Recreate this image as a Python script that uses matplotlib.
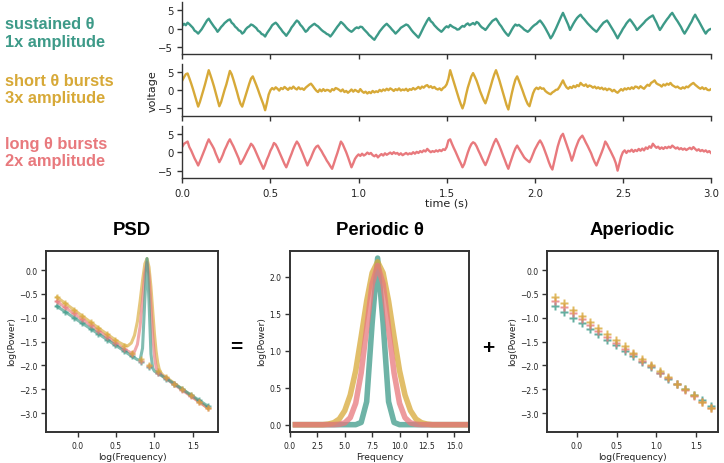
import numpy as np
import matplotlib
matplotlib.use("Agg")
import matplotlib.pyplot as plt

TEAL, GOLD, PINK = "#3d9a88", "#d7a938", "#e8797d"
BOLD = "Liberation Sans"

DT = 0.01
SUSTAINED = [
    0.8, 1.3, 0.9, 1.6, 1.2, 0.7, 0.2, -0.6, -0.9, -1.4,
    -0.8, -0.2, 0.6, 1.4, 2.2, 2.7, 1.9, 1.2, 0.5, -0.1,
    -0.9, -0.3, 0.4, 0.9, 1.5, 1.9, 2.3, 2.5, 1.6, 1.2,
    0.5, 0.1, -0.5, -0.7, -1.4, -1.0, -0.2, 0.3, 0.6, 1.1,
    0.9, 0.5, 0.1, -0.6, -0.9, -1.5, -1.7, -2.2, -1.3, -0.6,
    0.1, 0.9, 1.3, 1.6, 1.1, 0.4, -0.2, -0.9, -1.4, -2.0,
    -1.3, -0.6, 0.3, 0.9, 1.6, 2.2, 1.8, 1.0, 0.5, -0.2,
    -0.9, -0.5, 0.2, 0.6, 1.0, 1.3, 0.9, 0.6, 0.1, -0.4,
    -0.8, -1.1, -1.5, -1.7, -2.2, -1.6, -0.9, -0.2, 0.5, 1.1,
    1.8, 1.4, 0.9, 0.3, -0.2, -0.6, -0.9, -0.5, 0.0, 0.3,
    0.1, 0.5, 0.4, -0.2, -0.7, -1.2, -1.8, -2.2, -2.7, -3.1,
    -2.3, -1.6, -0.8, -0.2, 0.4, 0.9, 1.3, 0.8, 0.3, -0.3,
    -0.8, -1.4, -0.9, -0.4, 0.2, 0.5, 0.8, 1.1, 0.9, 0.3,
    -0.4, -1.0, -1.5, -2.0, -2.5, -1.6, -0.6, 0.4, 1.3, 2.2,
    2.9, 2.0, 1.6, 0.9, 0.4, -0.1, -0.5, -0.9, -0.4, 0.2,
    0.6, 0.3, 1.0, 0.6, 0.3, 0.1, -0.3, -0.2, 0.3, 0.7,
    0.5, 1.1, 1.4, 0.9, 1.2, 1.5, 1.1, 1.8, 1.5, 0.8,
    0.3, 0.0, -0.4, 0.2, 0.9, 1.5, 2.1, 2.4, 2.7, 2.0,
    1.2, 0.6, -0.2, -0.9, -1.5, -2.0, -1.2, -0.3, 0.5, 1.1,
    0.8, 1.0, 0.6, 0.2, -0.3, -0.6, -0.9, -0.5, 0.1, 0.6,
    1.0, 1.3, 1.8, 2.2, 1.6, 0.9, 0.1, -0.8, -1.7, -2.7,
    -2.0, -1.0, 0.0, 1.1, 2.2, 3.3, 4.3, 3.2, 2.1, 1.0,
    -0.4, 0.5, 1.4, 2.2, 2.9, 3.4, 3.8, 3.1, 2.6, 2.0,
    1.4, 0.9, 0.4, -0.1, -0.5, -0.9, -0.3, 0.4, 1.0, 1.6,
    1.9, 2.2, 1.5, 0.7, -0.1, -0.9, -1.8, -2.7, -1.8, -1.0,
    -0.1, 0.6, 1.4, 2.0, 2.5, 1.9, 1.2, 0.5, -0.4, 0.1,
    0.6, 1.1, 1.6, 2.2, 2.6, 3.0, 3.3, 3.6, 2.6, 1.7,
    0.6, -0.4, 0.3, 1.1, 1.8, 2.5, 3.1, 3.8, 4.3, 3.5,
    2.7, 2.0, 1.2, 0.4, -0.6, -1.4, -0.6, 0.2, 1.1, 1.9,
    3.0, 3.8, 2.9, 2.1, 1.2, 0.3, -0.6, -1.4, -0.7, -0.3,
    -0.1,
]
SHORT_BURSTS = [
    2.7, 3.6, 4.4, 4.6, 3.3, 1.9, 0.4, -1.2, -2.9, -4.5,
    -3.2, -1.6, 0.1, 1.8, 3.7, 5.5, 4.1, 2.6, 1.0, -0.8,
    -2.5, -4.4, -3.3, -1.6, 0.1, 1.6, 3.5, 5.3, 4.4, 2.9,
    1.3, -0.4, -2.2, -3.7, -4.5, -2.9, -1.3, 0.2, 1.8, 3.2,
    3.8, 2.6, 1.4, 0.1, -1.3, -2.6, -3.9, -5.5, -3.5, -1.2,
    0.0, 0.6, 0.2, 0.8, 0.4, -0.1, 0.6, 0.3, 0.9, 0.5,
    0.1, 0.7, 0.4, 1.0, 0.5, 0.2, 0.8, 0.3, 0.5, 0.1,
    0.7, 1.1, 1.5, 1.8, 1.2, 0.5, -0.1, -0.5, 0.2, -0.3,
    0.3, -0.2, 0.1, 0.0, -0.4, 0.3, 0.0, 0.6, 0.4, 0.1,
    -0.3, 0.2, -0.5, -0.2, -0.7, -0.3, 0.2, -0.4, 0.1, -0.2,
    -0.5, 0.3, -0.3, -0.7, -0.4, -0.9, -0.5, -0.8, -0.2, -0.6,
    -0.3, -0.5, 0.1, -0.3, 0.2, -0.1, 0.4, 0.0, 0.5, 0.2,
    -0.2, 0.3, 0.0, 0.5, -0.1, 0.2, 0.0, 0.4, -0.2, 0.3,
    0.1, 0.6, 0.2, 0.5, 0.9, 0.4, 1.0, 0.7, 1.2, 1.4,
    0.8, 1.1, 0.6, 0.9, 0.4, 0.2, 0.5, 0.0, 0.6, 0.9,
    1.6, 3.1, 5.5, 3.9, 2.4, 0.8, -0.9, -2.4, -3.8, -5.0,
    -3.6, -1.3, 0.7, 2.3, 3.8, 4.7, 3.7, 2.6, 1.2, -0.3,
    -1.5, -2.7, -3.6, -2.2, -0.6, 1.1, 2.8, 4.3, 5.5, 4.1,
    2.6, 0.9, -0.8, -2.4, -4.1, -5.3, -3.0, -0.8, 1.2, 2.9,
    3.8, 2.6, 1.3, 0.0, -1.4, -2.7, -3.8, -4.4, -2.6, -0.9,
    0.2, 0.7, 0.3, 0.8, 0.4, 0.5, -0.2, -0.6, -0.9, -1.1,
    -0.6, -0.3, 0.1, 0.2, 0.9, 1.8, 2.7, 1.6, 0.8, 0.4,
    0.9, 0.6, 1.2, 0.8, 1.4, 1.1, 2.0, 1.5, 1.2, 1.6,
    0.9, 1.3, 1.1, 0.7, 1.0, 0.5, 0.8, 0.4, 0.7, 0.2,
    0.5, 0.0, 0.4, 0.2, -0.3, 0.1, -0.4, -0.7, -0.2, 0.3,
    -0.1, 0.5, 0.2, 0.6, 0.3, 0.8, 0.4, 1.0, 0.9, 0.5,
    1.1, 0.7, 0.4, 1.0, 1.5, 1.2, 2.0, 2.3, 2.7, 1.9,
    1.6, 1.4, 1.0, 1.6, 1.3, 1.8, 1.5, 2.0, 1.4, 1.1,
    0.8, 1.0, 0.6, 0.4, 0.8, 0.5, 1.0, 0.8, 1.3, 1.7,
    2.0, 1.5, 1.1, 0.7, 0.4, 0.8, 0.3, 0.6, 0.1, 0.0,
    0.3,
]
LONG_BURSTS = [
    1.5, 2.3, 2.6, 2.9, 1.4, 0.5, -0.6, -1.7, -2.6, -3.6,
    -2.5, -1.3, -0.1, 1.1, 2.4, 3.5, 2.6, 1.8, 0.9, -0.4,
    -1.5, -2.7, -1.8, -0.7, 0.6, 1.6, 2.7, 3.5, 2.5, 1.6,
    0.5, -0.6, -1.7, -3.2, -2.5, -1.6, -0.6, 0.4, 1.3, 2.3,
    1.8, 0.9, -0.2, -1.3, -2.4, -3.4, -4.5, -3.4, -2.0, -0.9,
    0.4, 1.3, 2.5, 2.1, 1.2, 0.1, -1.0, -2.1, -3.2, -4.1,
    -2.9, -1.6, -0.4, 0.9, 2.0, 2.9, 2.2, 1.1, 0.0, -1.2,
    -2.4, -3.6, -2.5, -1.5, -0.3, 0.8, 1.5, 1.8, 1.0, 0.3,
    -0.6, -1.4, -2.3, -3.0, -3.8, -4.5, -3.1, -1.6, -0.2, 1.4,
    2.9, 2.2, 1.1, 0.0, -1.3, -2.7, -4.1, -3.0, -1.8, -1.1,
    -0.6, -1.0, -0.4, -0.9, -0.6, -0.1, -0.5, -0.2, -0.8, -1.1,
    -0.7, -1.4, -0.9, -0.5, -0.9, -0.3, -0.7, -0.4, -0.1, -0.5,
    0.0, -0.4, -0.2, -0.7, -0.3, -0.8, -0.5, -0.2, -0.6, -0.3,
    -0.5, 0.0, -0.4, 0.1, -0.2, 0.3, 0.0, 0.5, 0.2, 0.9,
    0.4, 0.0, 0.3, 0.1, 0.5, 0.2, 0.6, 0.3, 0.8, 0.6,
    1.4, 3.2, 3.5, 2.3, 1.2, 0.2, -0.9, -2.0, -3.0, -4.1,
    -3.2, -1.6, -0.1, 1.2, 2.2, 2.7, 2.4, 1.6, 0.5, -0.5,
    -1.6, -2.6, -3.5, -2.4, -1.1, 0.2, 1.5, 2.7, 3.6, 2.7,
    1.6, 0.4, -0.9, -2.1, -3.4, -4.5, -3.0, -1.6, -0.2, 1.0,
    1.8, 1.0, 0.2, -0.6, -1.4, -1.9, -2.3, -2.7, -1.7, -0.5,
    0.7, 1.6, 2.5, 3.2, 2.4, 1.3, 0.0, -1.3, -2.7, -3.9,
    -4.7, -2.6, -0.5, 1.5, 3.1, 4.4, 5.0, 3.6, 2.2, 0.8,
    -0.6, -2.3, -0.9, 0.8, 2.1, 3.3, 4.0, 4.5, 3.6, 2.6,
    1.7, 0.7, -0.3, -1.6, -2.7, -3.6, -2.4, -1.2, 0.0, 1.3,
    2.9, 2.2, 1.2, 0.3, -0.7, -1.7, -3.0, -5.0, -3.1, -1.2,
    0.0, 0.5, -0.2, 0.4, 0.2, 0.7, 0.1, 0.6, 0.3, 0.9,
    0.4, 1.0, 0.5, 1.3, 0.9, 1.6, 1.2, 2.3, 1.7, 1.2,
    1.5, 0.9, 1.3, 0.9, 1.4, 1.1, 1.5, 1.2, 1.8, 1.4,
    1.0, 1.3, 0.8, 1.1, 0.7, 1.0, 0.6, 0.9, 1.2, 0.8,
    1.4, 0.9, 0.45, 0.8, 0.3, 0.6, 0.2, 0.5, 0.0, 0.3,
    -0.2,
]
TRACE_LABELS = ["sustained θ\n1x amplitude", "short θ bursts\n3x amplitude",
                "long θ bursts\n2x amplitude"]

# ---- periodic component, 0.5 Hz grid from 0.5 to 16 Hz ----
PERIODIC_FREQ = np.arange(0.5, 16.01, 0.5)
PERIODIC_TEAL = [0, 0, 0, 0, 0, 0, 0, 0, 0, 0, 0,
                 0.0, 0.03, 0.31, 1.37, 2.25, 1.37, 0.31, 0.03,
                 0, 0, 0, 0, 0, 0, 0, 0, 0, 0, 0, 0, 0]
PERIODIC_PINK = [0, 0, 0, 0, 0, 0, 0, 0,
                 0.005, 0.024, 0.094, 0.29, 0.70, 1.30, 1.90, 2.15, 1.90,
                 1.30, 0.70, 0.29, 0.094, 0.024, 0.005,
                 0, 0, 0, 0, 0, 0, 0, 0, 0]
PERIODIC_GOLD = [0, 0, 0, 0, 0, 0,
                 0.008, 0.027, 0.076, 0.19, 0.40, 0.73, 1.19, 1.67, 2.05, 2.2,
                 2.05, 1.67, 1.19, 0.73, 0.40, 0.19, 0.076, 0.027, 0.008,
                 0, 0, 0, 0, 0, 0, 0]

# ---- aperiodic component (log-spaced markers) ----
APERIODIC_LOGF = [-0.27, -0.16, -0.05, 0.06, 0.17, 0.27, 0.38, 0.49, 0.60, 0.71,
                  0.82, 0.93, 1.04, 1.15, 1.26, 1.36, 1.47, 1.58, 1.69]
APERIODIC_TEAL = [-0.76, -0.88, -1.00, -1.11, -1.23, -1.34, -1.46, -1.57, -1.69, -1.81,
                  -1.92, -2.04, -2.16, -2.28, -2.39, -2.50, -2.62, -2.73, -2.85]
APERIODIC_GOLD = [-0.57, -0.70, -0.83, -0.96, -1.09, -1.21, -1.34, -1.47, -1.60, -1.73,
                  -1.86, -1.99, -2.12, -2.25, -2.38, -2.50, -2.63, -2.76, -2.89]
APERIODIC_PINK = [-0.66, -0.78, -0.91, -1.03, -1.16, -1.27, -1.40, -1.52, -1.65, -1.77,
                  -1.90, -2.02, -2.15, -2.27, -2.40, -2.51, -2.64, -2.76, -2.89]

# ---- full power spectrum ----
PSD_FREQ = [0.54, 1, 2, 3, 3.5, 4, 4.5, 5, 5.5, 6, 6.5, 7, 7.5, 8, 8.5, 9, 9.5,
            10, 10.5, 11, 11.5, 12, 12.5, 13, 14, 16, 49]
PSD_TEAL = [-0.76, -1.05, -1.37, -1.56, -1.63, -1.69, -1.75, -1.80, -1.84, -1.88,
            -1.89, -1.64, -0.61, 0.24, -0.67, -1.76, -2.06, -2.12, -2.14, -2.16,
            -2.18, -2.20, -2.22, -2.24, -2.27, -2.33, -2.85]
PSD_GOLD = [-0.57, -0.89, -1.25, -1.45, -1.52, -1.57, -1.59, -1.53, -1.37, -1.08,
            -0.66, -0.22, 0.13, 0.24, 0.06, -0.35, -0.86, -1.34, -1.70, -1.93,
            -2.07, -2.14, -2.18, -2.21, -2.24, -2.31, -2.89]
PSD_PINK = [-0.66, -0.97, -1.31, -1.51, -1.59, -1.65, -1.70, -1.74, -1.71, -1.56,
            -1.19, -0.63, -0.06, 0.16, -0.12, -0.75, -1.38, -1.81, -2.04, -2.13,
            -2.17, -2.19, -2.21, -2.23, -2.27, -2.34, -2.89]

W, H = 724, 464
plt.rcParams.update({
    "axes.edgecolor": "#333333", "xtick.color": "#333333", "ytick.color": "#333333",
    "xtick.labelcolor": "#222222", "ytick.labelcolor": "#222222", "text.color": "#222222",
})


def box(l, t, r, b):
    return [l / W, 1 - b / H, (r - l) / W, (b - t) / H]


fig = plt.figure(figsize=(W / 100, H / 100), dpi=100)

# ---- top: three voltage traces ----
rows = [(3.3, 55, 33.5), (65, 116.7, 89.7), (126.7, 179, 153)]
series = [(SUSTAINED, TEAL), (SHORT_BURSTS, GOLD), (LONG_BURSTS, PINK)]
for i, ((top, bot, ylab), (v, c), lab) in enumerate(zip(rows, series, TRACE_LABELS)):
    ax = fig.add_axes(box(182.3, top, 711, bot))
    ax.plot(np.arange(len(v)) * DT, v, color=c, lw=1.7)
    ax.set_xlim(0, 3); ax.set_ylim(-7.0, 7.2)
    ax.set_yticks([-5, 0, 5]); ax.set_xticks(np.arange(0, 3.01, 0.5))
    for s in ("top", "right"):
        ax.spines[s].set_visible(False)
    for s in ("left", "bottom"):
        ax.spines[s].set_linewidth(1.0)
    ax.tick_params(length=3.5, width=1.0, labelsize=7.3)
    ax.tick_params(axis="y", pad=3)
    ax.tick_params(axis="x", pad=4)
    if i < 2:
        ax.tick_params(labelbottom=False)
    fig.text(5 / W, 1 - ylab / H, lab, color=c, fontsize=11.8, fontweight="bold",
             family=BOLD, ha="left", va="center", linespacing=1.2)

fig.text(152.5 / W, 1 - 91 / H, "voltage", rotation=90, ha="center", va="center", fontsize=8)
fig.text(446.6 / W, 1 - 204 / H, "time (s)", ha="center", va="center", fontsize=8)


def style_box(ax):
    for s in ax.spines.values():
        s.set_linewidth(1.4)
    ax.tick_params(length=3.5, width=1.0, labelsize=5.5)
    ax.tick_params(axis="x", pad=3.2)
    ax.tick_params(axis="y", pad=2.5)


# ---- PSD ----
axA = fig.add_axes(box(46, 251.7, 218.3, 432.7))
for vals, c in ((PSD_GOLD, GOLD), (PSD_PINK, PINK), (PSD_TEAL, TEAL)):
    axA.plot(np.log10(PSD_FREQ), vals, color=c, lw=2.2, alpha=0.65)
for vals, c in ((APERIODIC_TEAL, TEAL), (APERIODIC_PINK, PINK), (APERIODIC_GOLD, GOLD)):
    axA.plot(APERIODIC_LOGF, vals, "P", color=c, ms=4, alpha=0.7, mec="none")
axA.set_xlim(-0.41, 1.83); axA.set_ylim(-3.39, 0.405)
axA.set_xticks([0.0, 0.5, 1.0, 1.5]); axA.set_yticks(np.arange(-3.0, 0.01, 0.5))
style_box(axA)

# ---- periodic ----
axB = fig.add_axes(box(290, 251.7, 469.3, 432.7))
for vals, c in ((PERIODIC_TEAL, TEAL), (PERIODIC_GOLD, GOLD), (PERIODIC_PINK, PINK)):
    axB.plot(PERIODIC_FREQ, vals, color=c, lw=4, alpha=0.75)
axB.set_xlim(0, 16.37); axB.set_ylim(-0.095, 2.35)
axB.set_xticks(np.arange(0, 15.01, 2.5)); axB.set_yticks([0.0, 0.5, 1.0, 1.5, 2.0])
style_box(axB)

# ---- aperiodic ----
axC = fig.add_axes(box(546.7, 251.7, 718.3, 432.7))
for vals, c in ((APERIODIC_TEAL, TEAL), (APERIODIC_PINK, PINK), (APERIODIC_GOLD, GOLD)):
    axC.plot(APERIODIC_LOGF, vals, "P", color=c, ms=5.5, alpha=0.8, mec="none")
axC.set_xlim(-0.38, 1.78); axC.set_ylim(-3.39, 0.405)
axC.set_xticks([0.0, 0.5, 1.0, 1.5]); axC.set_yticks(np.arange(-3.0, 0.01, 0.5))
style_box(axC)

for x, t in ((132.2, "PSD"), (379.6, "Periodic θ"), (632.5, "Aperiodic")):
    fig.text(x / W, 1 - 230.7 / H, t, ha="center", va="center", fontsize=13.3,
             fontweight="bold", family=BOLD, color="black")
for x, t in ((132.2, "log(Frequency)"), (379.6, "Frequency"), (632.5, "log(Frequency)")):
    fig.text(x / W, 1 - 457.5 / H, t, ha="center", va="center", fontsize=6.6)
for x in (11.2, 261.2, 512.8):
    fig.text(x / W, 1 - 342 / H, "log(Power)", rotation=90, ha="center", va="center", fontsize=6.6)

fig.text(236.7 / W, 1 - 348 / H, "=", ha="center", va="center", fontsize=15,
         fontweight="bold", family=BOLD, color="black")
fig.text(488 / W, 1 - 349 / H, "+", ha="center", va="center", fontsize=15,
         fontweight="bold", family=BOLD, color="black")

fig.savefig("out.png", dpi=100, facecolor="white")
